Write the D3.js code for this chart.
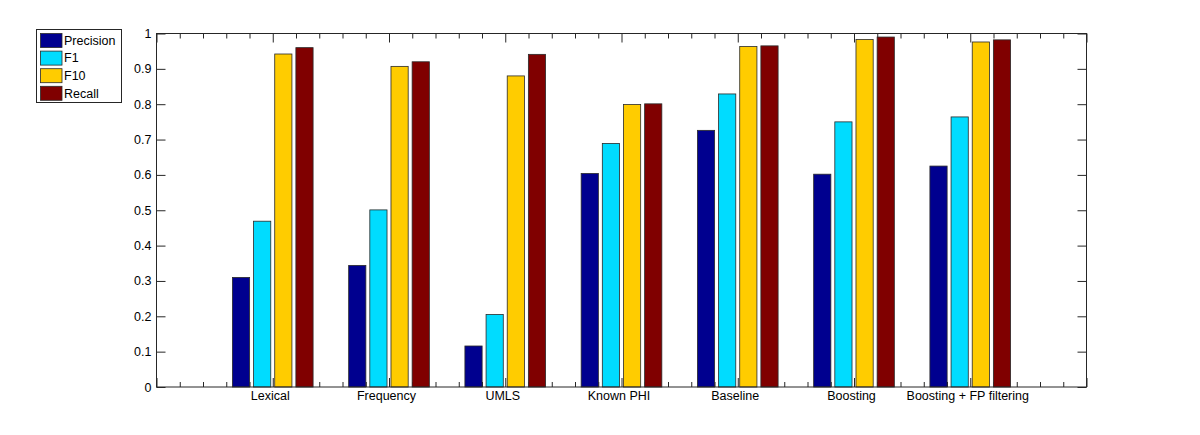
<!DOCTYPE html>
<html>
<head>
<meta charset="utf-8">
<script src="https://cdn.jsdelivr.net/npm/d3@7"></script>
<style>
  html, body { margin: 0; padding: 0; background: #fff; }
  svg { display: block; font-family: "Liberation Sans", Arial, Helvetica, sans-serif; }
</style>
</head>
<body>
<svg id="chart" width="1200" height="435"></svg>
<script>
const categories = ["Lexical", "Frequency", "UMLS", "Known PHI", "Baseline", "Boosting", "Boosting + FP filtering"];
const seriesNames = ["Precision", "F1", "F10", "Recall"];
const precision = [0.310, 0.344, 0.116, 0.604, 0.726, 0.602, 0.625];
const f1        = [0.469, 0.501, 0.205, 0.689, 0.829, 0.750, 0.764];
const f10       = [0.942, 0.907, 0.880, 0.799, 0.963, 0.983, 0.976];
const recall    = [0.960, 0.920, 0.941, 0.801, 0.965, 0.990, 0.982];
const yTickValues = [0, 0.1, 0.2, 0.3, 0.4, 0.5, 0.6, 0.7, 0.8, 0.9, 1];
const yTickLabels = ["0", "0.1", "0.2", "0.3", "0.4", "0.5", "0.6", "0.7", "0.8", "0.9", "1"];

const series = [precision, f1, f10, recall];
const colors = ["#00008f", "#00dcff", "#ffcc00", "#800000"];

const svg = d3.select("#chart");
const L = 156.5, R = 1086.5, T = 33.5, B = 387;
const x = d3.scaleLinear().domain([0, 8]).range([L, R]);
const y = d3.scaleLinear().domain([0, 1]).range([B, T]);
const axisColor = "#262626";
const fs = "12.5px";

const majorX = d3.range(0, 9);
const minorX = d3.range(0, 41).map(i => i * 0.2).filter(v => Math.abs(v - Math.round(v)) > 1e-6);

function styleAxis(g) {
  g.select(".domain").remove();
  g.selectAll(".tick line").attr("stroke", axisColor);
  g.selectAll(".tick text").attr("fill", "#000").style("font-size", fs);
}

// y axes
svg.append("g").attr("transform", `translate(${L},0)`)
  .call(d3.axisLeft(y).tickValues(yTickValues).tickFormat((d, i) => yTickLabels[i]).tickSizeInner(-9).tickSizeOuter(0).tickPadding(5))
  .call(styleAxis);
svg.append("g").attr("transform", `translate(${R},0)`)
  .call(d3.axisRight(y).tickValues(yTickValues).tickFormat("").tickSizeInner(-9).tickSizeOuter(0))
  .call(styleAxis);

// x axes: major + minor ticks on bottom and top
svg.append("g").attr("transform", `translate(0,${B})`)
  .call(d3.axisBottom(x).tickValues(majorX).tickFormat("").tickSizeInner(-9).tickSizeOuter(0))
  .call(styleAxis);
svg.append("g").attr("transform", `translate(0,${B})`)
  .call(d3.axisBottom(x).tickValues(minorX).tickFormat("").tickSizeInner(-5).tickSizeOuter(0))
  .call(styleAxis);
svg.append("g").attr("transform", `translate(0,${T})`)
  .call(d3.axisTop(x).tickValues(majorX).tickFormat("").tickSizeInner(-9).tickSizeOuter(0))
  .call(styleAxis);
svg.append("g").attr("transform", `translate(0,${T})`)
  .call(d3.axisTop(x).tickValues(minorX).tickFormat("").tickSizeInner(-5).tickSizeOuter(0))
  .call(styleAxis);

// category labels
svg.append("g").attr("transform", `translate(0,${B})`)
  .call(d3.axisBottom(x).tickValues(d3.range(1, categories.length + 1)).tickFormat((d, i) => categories[i]).tickSize(0).tickPadding(4.5))
  .call(styleAxis)
  .call(g => g.selectAll(".tick text").attr("dx", -3));

// bars
const groupW = 0.182, barW = 0.148;
series.forEach((vals, s) => {
  svg.append("g").selectAll("rect")
    .data(vals)
    .join("rect")
    .attr("x", (d, i) => x(i + 1 + (s - 1.5) * groupW - barW / 2))
    .attr("width", x(barW) - x(0))
    .attr("y", d => y(d))
    .attr("height", d => y(0) - y(d))
    .attr("fill", colors[s])
    .attr("stroke", "#2a2a2a")
    .attr("stroke-width", 0.8);
});

// axes box
svg.append("rect")
  .attr("x", L).attr("y", T).attr("width", R - L).attr("height", B - T)
  .attr("fill", "none").attr("stroke", axisColor).attr("stroke-width", 1);

// legend
const lg = svg.append("g");
lg.append("rect").attr("x", 36.5).attr("y", 29.5).attr("width", 85).attr("height", 73)
  .attr("fill", "#fff").attr("stroke", axisColor).attr("stroke-width", 1);
seriesNames.forEach((name, i) => {
  const yy = 33.5 + i * 17.6;
  lg.append("rect").attr("x", 40.5).attr("y", yy).attr("width", 21.5).attr("height", 14)
    .attr("fill", colors[i]).attr("stroke", "#2a2a2a").attr("stroke-width", 0.8);
  lg.append("text").attr("x", 64).attr("y", yy + 7).attr("dy", "0.35em")
    .style("font-size", fs).attr("fill", "#000").text(name);
});
</script>
</body>
</html>
